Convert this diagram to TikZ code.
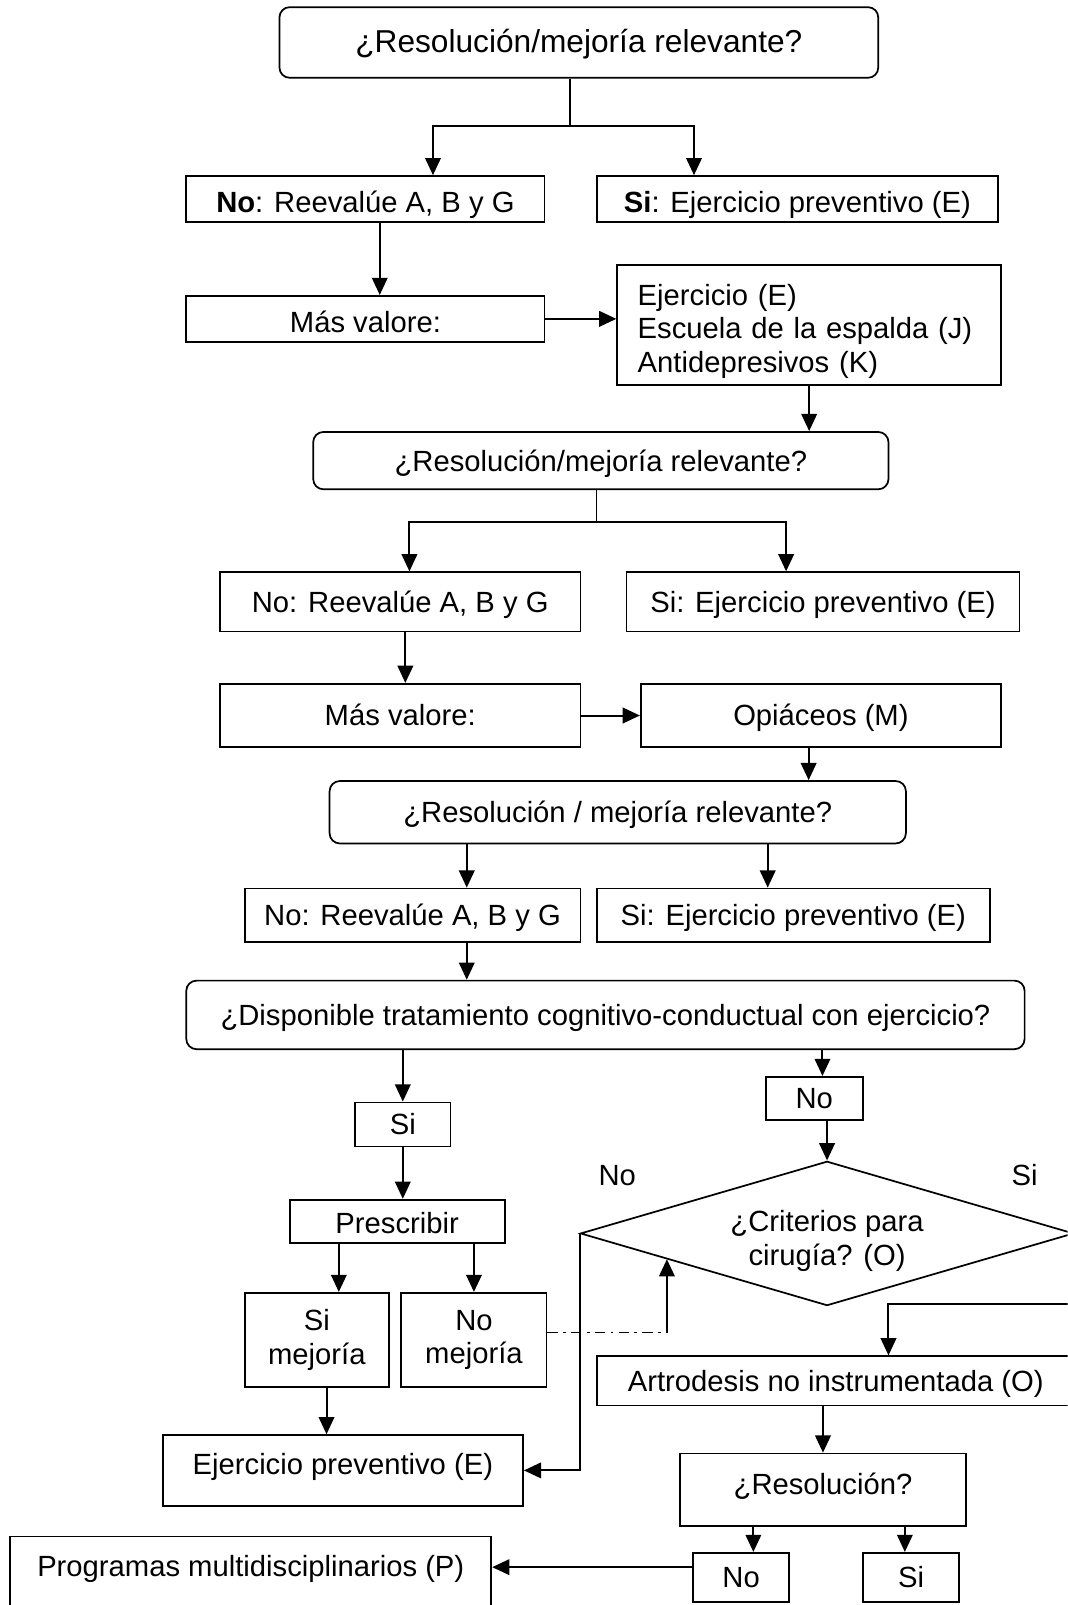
\documentclass[tikz,border=0pt]{standalone}
\usepackage{fontspec}
\setmainfont{Liberation Sans}
\usetikzlibrary{positioning,calc,arrows.meta,shapes.geometric}
\newlength\unitpx
\setlength\unitpx{0.025cm}

\begin{document}
\begin{tikzpicture}[x=0.025cm, y=-0.025cm,
   box/.style={draw, line width=1.2pt, inner sep=0pt, align=center,
      font=\fontsize{20.3}{23.5}\selectfont},
   sbox/.style={box, text height=27\unitpx, text depth=6.5\unitpx},
   rbox/.style={sbox, rounded corners=0.25cm},
   wh/.style 2 args={minimum width=#1\unitpx, minimum height=#2\unitpx},
   lbl/.style={inner sep=0pt, font=\fontsize{20.3}{23.5}\selectfont},
   link/.style={line width=1pt},
   arr/.style={line width=1.4pt, -{Triangle[length=0.42cm,width=0.38cm]}}]
   \clip (0,0) rectangle (1043,1568);

   % first round
   \node[rbox, wh={585}{69}, font=\fontsize{22}{26}\selectfont] (top) at (565.5,41.5)
      {¿Resolución/mejoría relevante?};
   \node[sbox, wh={350}{45}, text height=33\unitpx] (no1) at (357,194.5)
      {\textbf{No}: Reevalúe A, B y G};
   \node[sbox, wh={392}{45}, text height=33\unitpx] (si1) at (779,194.5)
      {\textbf{Si}: Ejercicio preventivo (E)};
   \node[sbox, wh={350}{45}, text height=33\unitpx] (mas1) at (357,311.5) {Más valore:};
   \node[box, wh={375}{117}, align=left, text width=335\unitpx, inner xsep=20\unitpx]
      (opts) at (790.5,317.5)
      {\rule{0pt}{33\unitpx}Ejercicio (E)\\Escuela de la espalda (J)\\Antidepresivos (K)};

   % second round
   \node[rbox, wh={562}{56}] (res2) at (587,450) {¿Resolución/mejoría relevante?};
   \node[sbox, wh={352}{58}] (no2) at (391,588) {No: Reevalúe A, B y G};
   \node[sbox, wh={384}{58}] (si2) at (804,588) {Si: Ejercicio preventivo (E)};
   \node[sbox, wh={352}{62}] (mas2) at (391,699) {Más valore:};
   \node[sbox, wh={352}{62}] (opm) at (802,699) {Opiáceos (M)};

   % third round
   \node[rbox, wh={563}{61}] (res3) at (603.5,793.5) {¿Resolución / mejoría relevante?};
   \node[sbox, wh={328}{52}] (no3) at (403,894) {No: Reevalúe A, B y G};
   \node[sbox, wh={384}{52}] (si3) at (775,894) {Si: Ejercicio preventivo (E)};
   \node[rbox, wh={819}{67}] (tcc) at (591.5,991.5)
      {¿Disponible tratamiento cognitivo-conductual con ejercicio?};

   % cognitive-behavioural branch
   \node[sbox, wh={93}{43}] (sicc) at (393.5,1098.5) {Si};
   \node[sbox, wh={210}{42}, text height=31\unitpx] (presc) at (388,1193) {Prescribir};
   \node[box, wh={141}{92}] (simej) at (309.5,1309) {Si\\mejoría};
   \node[box, wh={142}{92}] (nomej) at (463,1309) {No\\mejoría};
   \node[sbox, wh={352}{69}, text height=15\unitpx] (ejp) at (335,1436.5)
      {Ejercicio preventivo (E)};

   % surgery branch
   \node[sbox, wh={95}{42}] (nocc) at (795.5,1073) {No};
   \node[box, diamond, aspect=3.42, wh={482}{141}] (crit) at (808,1205)
      {\rule{0pt}{35\unitpx}¿Criterios para\\cirugía? (O)};
   \node[lbl] (lno) at (603,1148) {No};
   \node[lbl] (lsi) at (1001,1148) {Si};
   \node[sbox, wh={467}{48}] (artro) at (816.5,1349) {Artrodesis no instrumentada (O)};
   \node[sbox, wh={280}{71}, text height=16\unitpx] (resol) at (804,1455.5) {¿Resolución?};
   \node[sbox, wh={94}{48}] (nofin) at (724,1541) {No};
   \node[sbox, wh={94}{48}] (sifin) at (890,1541) {Si};
   \node[box, wh={470}{90}] (prog) at (245,1546) {Programas multidisciplinarios (P)\\\mbox{}};

   % connectors
   \coordinate (f1) at (557,123);
   \draw[link] (top.south -| f1) -- (f1);
   \draw[arr] (f1) -| ($(no1.north)+(66,0)$);
   \draw[arr] (f1) -| ($(si1.north)+(-101,0)$);
   \coordinate (a2) at ($(no1.south)+(14,0)$);
   \draw[arr] (a2) -- (a2 |- mas1.north);
   \draw[arr] (mas1.east) -- (mas1.east -| opts.west);
   \draw[arr] (opts.south) -- (opts.south |- res2.north);

   \coordinate (f2) at (583,510);
   \draw[link] (res2.south -| f2) -- (f2);
   \draw[arr] (f2) -| ($(no2.north)+(9,0)$);
   \draw[arr] (f2) -| ($(si2.north)+(-36,0)$);
   \coordinate (a6) at ($(no2.south)+(5,0)$);
   \draw[arr] (a6) -- (a6 |- mas2.north);
   \draw[arr] (mas2.east) -- (opm.west);
   \coordinate (a8) at ($(opm.south)+(-12,0)$);
   \draw[arr] (a8) -- (a8 |- res3.north);

   \coordinate (a9) at ($(no3.north)+(53,0)$);
   \coordinate (a10) at ($(si3.north)+(-25,0)$);
   \draw[arr] (a9 |- res3.south) -- (a9);
   \draw[arr] (a10 |- res3.south) -- (a10);
   \coordinate (a11) at ($(no3.south)+(53,0)$);
   \draw[arr] (a11) -- (a11 |- tcc.north);

   \draw[arr] (tcc.south -| sicc.north) -- (sicc.north);
   \coordinate (a12) at ($(nocc.north)+(8,0)$);
   \draw[arr] (a12 |- tcc.south) -- (a12);
   \draw[arr] (crit.north |- nocc.south) -- (crit.north);

   \draw[arr] (sicc.south) -- (sicc.south |- presc.north);
   \coordinate (a15) at ($(simej.north)+(21.5,0)$);
   \draw[arr] (a15 |- presc.south) -- (a15);
   \draw[arr] (nomej.north |- presc.south) -- (nomej.north);

   \coordinate (ce) at ($(crit.west)!0.353!(crit.south)$);
   \coordinate (dd) at ($(nomej.east)+(0,-7)$);
   \draw[line width=1pt, dash pattern=on 0.25cm off 0.13cm on 0.07cm off 0.13cm]
      (dd) -- (dd -| ce);
   \draw[arr] (dd -| ce) -- (ce);

   \coordinate (a18) at ($(simej.south)+(9.5,0)$);
   \draw[arr] (a18) -- (a18 |- ejp.north);
   \draw[arr] (crit.west) |- (ejp.east);

   \coordinate (rt) at ($(crit.east)+(20,0)$);
   \coordinate (a20) at ($(artro.north)+(51.5,-50)$);
   \draw[arr] (crit.east) -- (rt) |- (a20) -- (a20 |- artro.north);
   \draw[arr] (resol.north |- artro.south) -- (resol.north);

   \coordinate (a22) at ($(nofin.north)+(12,0)$);
   \coordinate (a23) at ($(sifin.north)+(-6,0)$);
   \draw[arr] (a22 |- resol.south) -- (a22);
   \draw[arr] (a23 |- resol.south) -- (a23);
   \coordinate (a24) at ($(nofin.west)+(0,-10)$);
   \draw[arr] (a24) -- (a24 -| prog.east);
\end{tikzpicture}
\end{document}
